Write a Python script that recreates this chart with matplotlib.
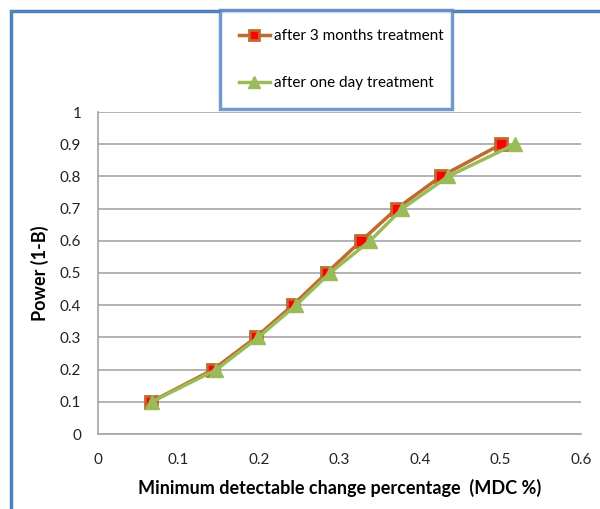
import matplotlib
matplotlib.use("Agg")
import matplotlib.pyplot as plt
from matplotlib.patches import Rectangle

plt.rcParams['font.family'] = ['Lato', 'DejaVu Sans']

power = [0.1, 0.2, 0.3, 0.4, 0.5, 0.6, 0.7, 0.8, 0.9]
mdc_3months = [0.066, 0.143, 0.196, 0.242, 0.284, 0.327, 0.371, 0.426, 0.501]
mdc_oneday = [0.067, 0.147, 0.199, 0.246, 0.288, 0.338, 0.378, 0.435, 0.518]
series_labels = ['after 3 months treatment', 'after one day treatment']
x_ticks = [0, 0.1, 0.2, 0.3, 0.4, 0.5, 0.6]
y_ticks = [0, 0.1, 0.2, 0.3, 0.4, 0.5, 0.6, 0.7, 0.8, 0.9, 1]

W, H = 600, 509
fig = plt.figure(figsize=(W / 100, H / 100), dpi=100)
fig.patch.set_facecolor('white')

# outer blue frame
fig.patches.append(Rectangle((10.5 / W, -0.1), 1.2, 1 - 10.5 / H + 0.1,
                             transform=fig.transFigure, fill=False,
                             edgecolor='#4F81BD', linewidth=2.5, zorder=0))

ax = fig.add_axes([98 / W, 1 - 434 / H, (581 - 98) / W, (434 - 112) / H])
ax.set_xlim(0, 0.6)
ax.set_ylim(0, 1)
ax.set_xticks(x_ticks)
ax.set_xticklabels([f'{v:g}' for v in x_ticks])
ax.set_yticks(y_ticks)
ax.set_yticklabels([f'{v:g}' for v in y_ticks])
ax.grid(axis='y', color='#A6A6A6', linewidth=1.2)
ax.set_axisbelow(True)
for s in ['top', 'right']:
    ax.spines[s].set_visible(False)
for s in ['left', 'bottom']:
    ax.spines[s].set_color('#A6A6A6')
    ax.spines[s].set_linewidth(1.2)
ax.tick_params(length=0, labelsize=11, colors='#222222', pad=14)
ax.tick_params(axis='y', pad=12)

ax.plot(mdc_3months, power, color='#C0692B', linewidth=2.5, marker='s',
        markersize=9, markerfacecolor='#FF0000', markeredgecolor='#C0692B',
        markeredgewidth=2, label=series_labels[0], zorder=3)
ax.plot(mdc_oneday, power, color='#9BBB59', linewidth=2.5, marker='^',
        markersize=10.5, markerfacecolor='#9BBB59', markeredgecolor='#9BBB59',
        label=series_labels[1], zorder=4)

ax.set_xlabel('Minimum detectable change percentage  (MDC %)', fontsize=13,
              fontweight='bold', labelpad=8)
ax.set_ylabel('Power (1-B)', fontsize=13, fontweight='bold', labelpad=8)

leg = fig.legend(loc='upper left',
                 bbox_to_anchor=(220 / W, 1 - 108 / H, (452 - 220) / W, 98 / H),
                 mode='expand', frameon=True, fancybox=False, fontsize=11,
                 labelspacing=2.15, borderpad=1.25, handlelength=2.0,
                 handletextpad=0.3, borderaxespad=0, markerscale=0.85)
leg.get_frame().set_edgecolor('#4F81BD')
leg.get_frame().set_linewidth(2.5)
leg.set_zorder(10)

fig.savefig('out.png', dpi=100, facecolor='white')
